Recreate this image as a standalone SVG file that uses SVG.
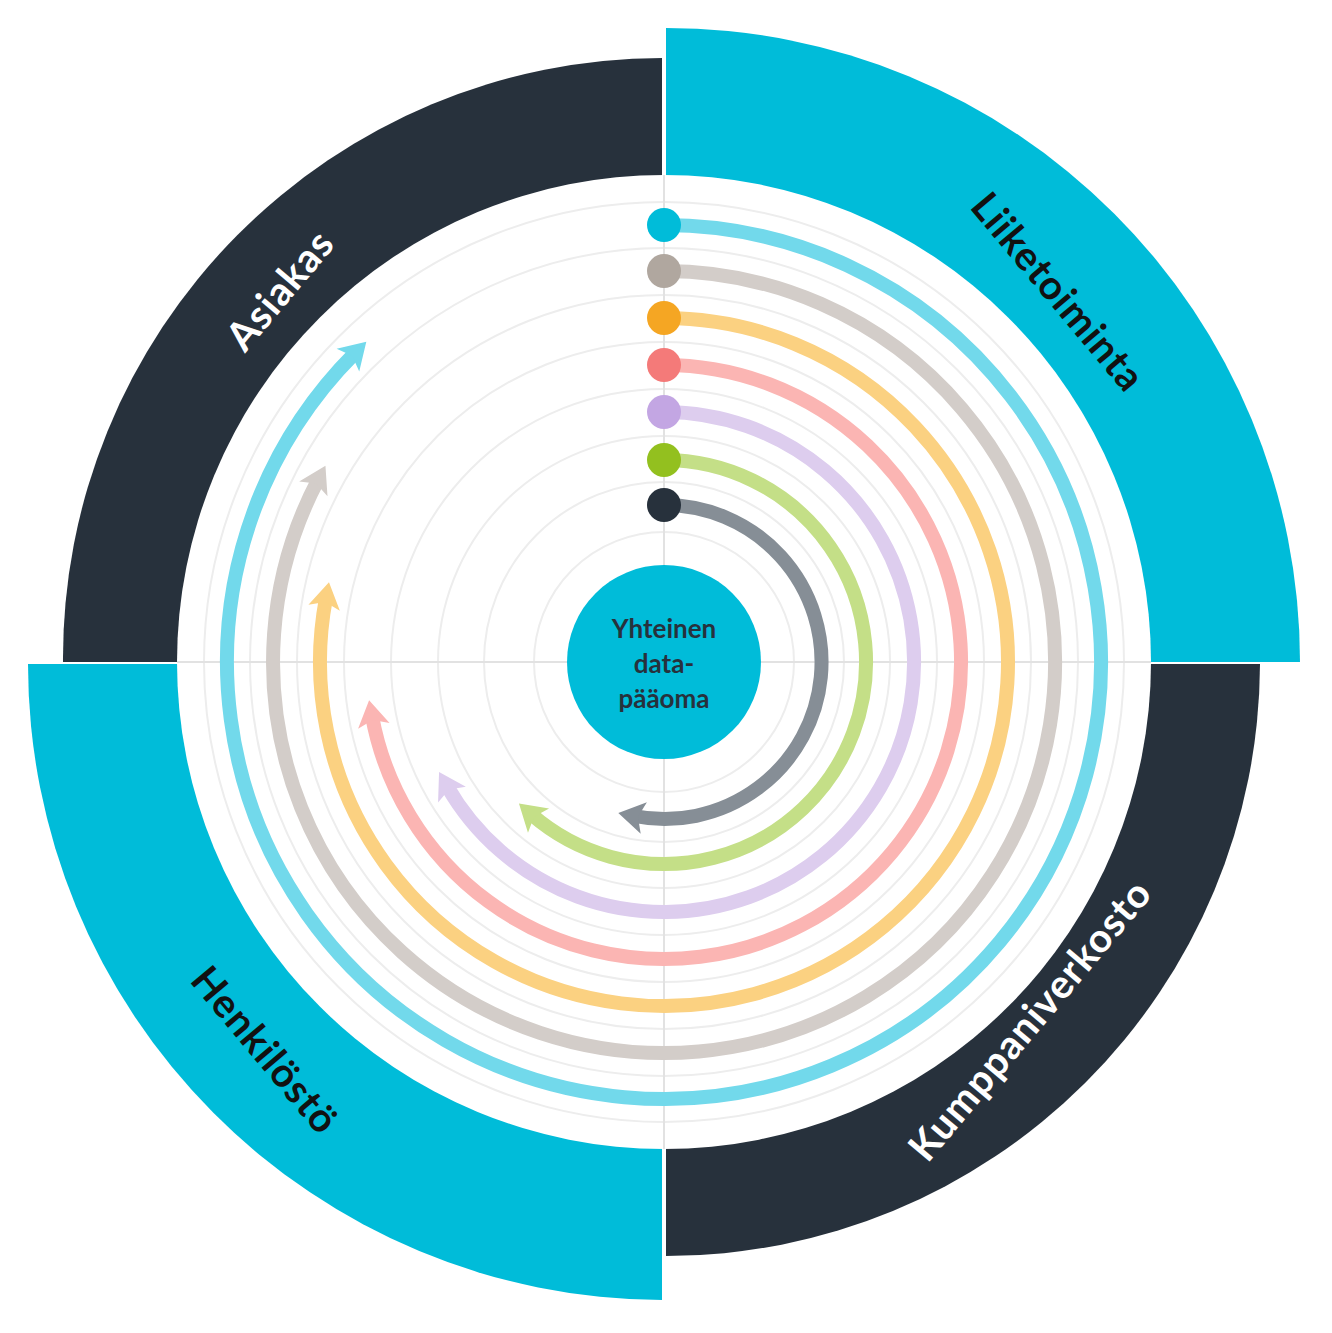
<svg xmlns="http://www.w3.org/2000/svg" width="1332" height="1333" viewBox="0 0 1332 1333">
<style>
.arc{fill:none;stroke-width:14}
.ring{fill:none;stroke:#ededed;stroke-width:2}
.lbl{font-family:"Lato","Liberation Sans",sans-serif;font-weight:bold;font-size:40px;text-anchor:middle;letter-spacing:1px}
.ctr{font-family:"Lato","Liberation Sans",sans-serif;font-weight:bold;font-size:26px;text-anchor:middle;fill:#27313c}
</style>
<defs>
<marker id="m1" markerUnits="userSpaceOnUse" viewBox="-20 -20 40 40" markerWidth="40" markerHeight="40" refX="0" refY="0" orient="auto"><path d="M16,0 L-10,-16 L-4,0 L-10,16 Z" fill="#72d9eb"/></marker>
<marker id="m2" markerUnits="userSpaceOnUse" viewBox="-20 -20 40 40" markerWidth="40" markerHeight="40" refX="0" refY="0" orient="auto"><path d="M16,0 L-10,-16 L-4,0 L-10,16 Z" fill="#d3cdc9"/></marker>
<marker id="m3" markerUnits="userSpaceOnUse" viewBox="-20 -20 40 40" markerWidth="40" markerHeight="40" refX="0" refY="0" orient="auto"><path d="M16,0 L-10,-16 L-4,0 L-10,16 Z" fill="#fbd181"/></marker>
<marker id="m4" markerUnits="userSpaceOnUse" viewBox="-20 -20 40 40" markerWidth="40" markerHeight="40" refX="0" refY="0" orient="auto"><path d="M16,0 L-10,-16 L-4,0 L-10,16 Z" fill="#fbb5b3"/></marker>
<marker id="m5" markerUnits="userSpaceOnUse" viewBox="-20 -20 40 40" markerWidth="40" markerHeight="40" refX="0" refY="0" orient="auto"><path d="M16,0 L-10,-16 L-4,0 L-10,16 Z" fill="#ddcdee"/></marker>
<marker id="m6" markerUnits="userSpaceOnUse" viewBox="-20 -20 40 40" markerWidth="40" markerHeight="40" refX="0" refY="0" orient="auto"><path d="M16,0 L-10,-16 L-4,0 L-10,16 Z" fill="#c4df87"/></marker>
<marker id="m7" markerUnits="userSpaceOnUse" viewBox="-20 -20 40 40" markerWidth="40" markerHeight="40" refX="0" refY="0" orient="auto"><path d="M16,0 L-10,-16 L-4,0 L-10,16 Z" fill="#868e96"/></marker>
</defs>
<rect width="1332" height="1333" fill="#fff"/>
<g id="quadrants">
<path id="q-liiketoiminta" d="M666,662 L666,28 A634,634 0 0 1 1300,662 Z" fill="#00bcd9"/>
<path id="q-asiakas" d="M662,662 L63,662 A600,600 0 0 1 662,58 Z" fill="#27313c"/>
<path id="q-kumppani" d="M666,664 L1260,664 A594,594 0 0 1 666,1256 Z" fill="#27313c"/>
<path id="q-henkilosto" d="M662,664 L662,1300 A636,636 0 0 1 28,664 Z" fill="#00bcd9"/>
</g>
<circle cx="664" cy="662" r="487" fill="#fff"/>
<g id="rings">
<circle class="ring" cx="664" cy="662" r="460"/><circle class="ring" cx="664" cy="662" r="414"/>
<circle class="ring" cx="664" cy="662" r="367"/><circle class="ring" cx="664" cy="662" r="320"/>
<circle class="ring" cx="664" cy="662" r="273"/><circle class="ring" cx="664" cy="662" r="226"/>
<circle class="ring" cx="664" cy="662" r="180"/><circle class="ring" cx="664" cy="662" r="130"/>
<line x1="177" y1="662" x2="1151" y2="662" stroke="#e2e2e2" stroke-width="2"/>
<line x1="664" y1="175" x2="664" y2="1149" stroke="#e2e2e2" stroke-width="2"/>
</g>
<g id="connectors">
<path class="arc" stroke="#72d9eb" d="M664,225 A437,437 0 1 1 355,353" marker-end="url(#m1)"/>
<path class="arc" stroke="#d3cdc9" d="M664,271 A391,391 0 1 1 318,480" marker-end="url(#m2)"/>
<path class="arc" stroke="#fbd181" d="M664,318 A344,344 0 1 1 326,598" marker-end="url(#m3)"/>
<path class="arc" stroke="#fbb5b3" d="M664,365 A297,297 0 1 1 372,716" marker-end="url(#m4)"/>
<path class="arc" stroke="#ddcdee" d="M664,412 A250,250 0 1 1 447,786" marker-end="url(#m5)"/>
<path class="arc" stroke="#c4df87" d="M664,460 A202,202 0 1 1 531,814" marker-end="url(#m6)"/>
<path class="arc" stroke="#868e96" d="M664,505 A157,157 0 1 1 634,816" marker-end="url(#m7)"/>
</g>
<g id="dots">
<circle cx="664" cy="225" r="17" fill="#00bcd9"/>
<circle cx="664" cy="271" r="17" fill="#b0a79f"/>
<circle cx="664" cy="318" r="17" fill="#f5a623"/>
<circle cx="664" cy="365" r="17" fill="#f47a79"/>
<circle cx="664" cy="412" r="17" fill="#c3a6e3"/>
<circle cx="664" cy="460" r="17" fill="#93c01f"/>
<circle cx="664" cy="505" r="17" fill="#27313c"/>
</g>
<g id="center">
<circle cx="664" cy="662" r="97" fill="#00bcd9"/>
<text class="ctr" x="664" y="638">Yhteinen</text>
<text class="ctr" x="664" y="673">data-</text>
<text class="ctr" x="664" y="708">pääoma</text>
</g>
<g id="labels">
<text class="lbl" fill="#111" transform="translate(1058,292) rotate(50)" dy="14">Liiketoiminta</text>
<text class="lbl" fill="#fff" transform="translate(280,290) rotate(-50)" dy="14">Asiakas</text>
<text class="lbl" fill="#fff" transform="translate(1030,1020) rotate(-50)" dy="14">Kumppaniverkosto</text>
<text class="lbl" fill="#111" transform="translate(265,1050) rotate(50)" dy="14">Henkilöstö</text>
</g>
</svg>
